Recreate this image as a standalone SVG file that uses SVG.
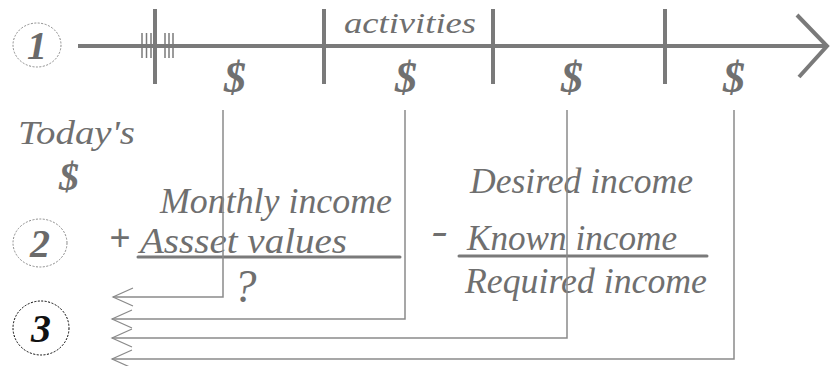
<svg xmlns="http://www.w3.org/2000/svg" width="830" height="366" viewBox="0 0 830 366">
<defs>
<style>
.s{font-family:"Liberation Serif","DejaVu Serif",serif;font-style:italic;fill:#6f6f6f;}
.d{font-family:"Liberation Serif","DejaVu Serif",serif;font-style:italic;font-weight:bold;fill:#707070;font-size:44px;text-anchor:middle;}
.tl{stroke:#7a7a7a;stroke-width:4;fill:none;}
.tk{stroke:#7a7a7a;stroke-width:1.5;fill:none;}
.bar{stroke:#7a7a7a;stroke-width:3;fill:none;stroke-linecap:round;}
.c{stroke:#8a8a8a;stroke-width:1.5;fill:none;}
.circ{fill:none;stroke-width:1;stroke-dasharray:2,1.5;}
.num{font-family:"Liberation Serif","DejaVu Serif",serif;font-style:italic;font-weight:bold;font-size:40px;text-anchor:middle;}
</style>
<marker id="ah" markerUnits="userSpaceOnUse" markerWidth="24" markerHeight="24" viewBox="-22 -11 24 22" refX="0" refY="0" orient="auto">
<path d="M-20,-9 L0,0 L-20,9" fill="none" stroke="#8a8a8a" stroke-width="1.2"/>
</marker>
</defs>

<g id="step1">
<ellipse class="circ" cx="37" cy="45" rx="24" ry="22" stroke="#8a8a8a"/>
<text class="num" x="37" y="59" fill="#6a6a6a">1</text>
</g>

<g id="timeline">
<line class="tl" x1="78" y1="46" x2="826" y2="46"/>
<polyline class="tl" points="797,15 827,46 799,77"/>
<line class="tl" x1="155" y1="9" x2="155" y2="84"/>
<line class="tl" x1="324" y1="9" x2="324" y2="84"/>
<line class="tl" x1="493" y1="9" x2="493" y2="84"/>
<line class="tl" x1="665" y1="9" x2="665" y2="84"/>
<line class="tk" x1="142" y1="33" x2="142" y2="58"/>
<line class="tk" x1="146.5" y1="33" x2="146.5" y2="58"/>
<line class="tk" x1="151" y1="33" x2="151" y2="58"/>
<line class="tk" x1="165" y1="33" x2="165" y2="58"/>
<line class="tk" x1="169" y1="33" x2="169" y2="58"/>
<line class="tk" x1="173" y1="33" x2="173" y2="58"/>
</g>

<g id="activities">
<text class="s" x="344" y="33" font-size="30" textLength="132" lengthAdjust="spacingAndGlyphs">activities</text>
</g>

<g id="dollar1"><text class="d" x="235" y="92">$</text></g>
<g id="dollar2"><text class="d" x="406" y="92">$</text></g>
<g id="dollar3"><text class="d" x="572" y="92">$</text></g>
<g id="dollar4"><text class="d" x="734" y="92">$</text></g>

<g id="todays">
<text class="s" x="18" y="144" font-size="34" textLength="117" lengthAdjust="spacingAndGlyphs">Today's</text>
<text class="d" x="69" y="190" font-size="40" style="font-size:40px">$</text>
</g>

<g id="step2">
<ellipse class="circ" cx="40" cy="243" rx="27" ry="24" stroke="#8a8a8a"/>
<text class="num" x="40" y="257" fill="#6a6a6a">2</text>
</g>

<g id="formula1">
<text x="120" y="250" font-family="Liberation Sans, sans-serif" font-size="36" fill="#6f6f6f" text-anchor="middle">+</text>
<text class="s" x="160" y="213" font-size="36" textLength="232" lengthAdjust="spacingAndGlyphs">Monthly income</text>
<text class="s" x="140" y="253" font-size="36" textLength="207" lengthAdjust="spacingAndGlyphs">Assset values</text>
<line class="bar" x1="138" y1="257" x2="400" y2="257"/>
<text class="s" x="245" y="302" font-size="46" text-anchor="middle">?</text>
</g>

<g id="formula2">
<text class="s" x="470" y="193" font-size="36" textLength="223" lengthAdjust="spacingAndGlyphs">Desired income</text>
<text class="s" x="432" y="243" font-size="36" font-weight="bold" textLength="16" lengthAdjust="spacingAndGlyphs">-</text>
<text class="s" x="467" y="250" font-size="36" textLength="210" lengthAdjust="spacingAndGlyphs">Known income</text>
<line class="bar" x1="459" y1="256" x2="707" y2="256"/>
<text class="s" x="465" y="293" font-size="36" textLength="242" lengthAdjust="spacingAndGlyphs">Required income</text>
</g>

<g id="step3">
<ellipse class="circ" cx="41" cy="328" rx="28" ry="27" stroke="#000"/>
<text class="num" x="41" y="342" fill="#111">3</text>
</g>

<g id="connectors">
<path class="c" d="M223,110 V297 H113" marker-end="url(#ah)"/>
<path class="c" d="M405,110 V319 H112" marker-end="url(#ah)"/>
<path class="c" d="M567,110 V338 H112" marker-end="url(#ah)"/>
<path class="c" d="M734,110 V359 H112" marker-end="url(#ah)"/>
</g>
</svg>
